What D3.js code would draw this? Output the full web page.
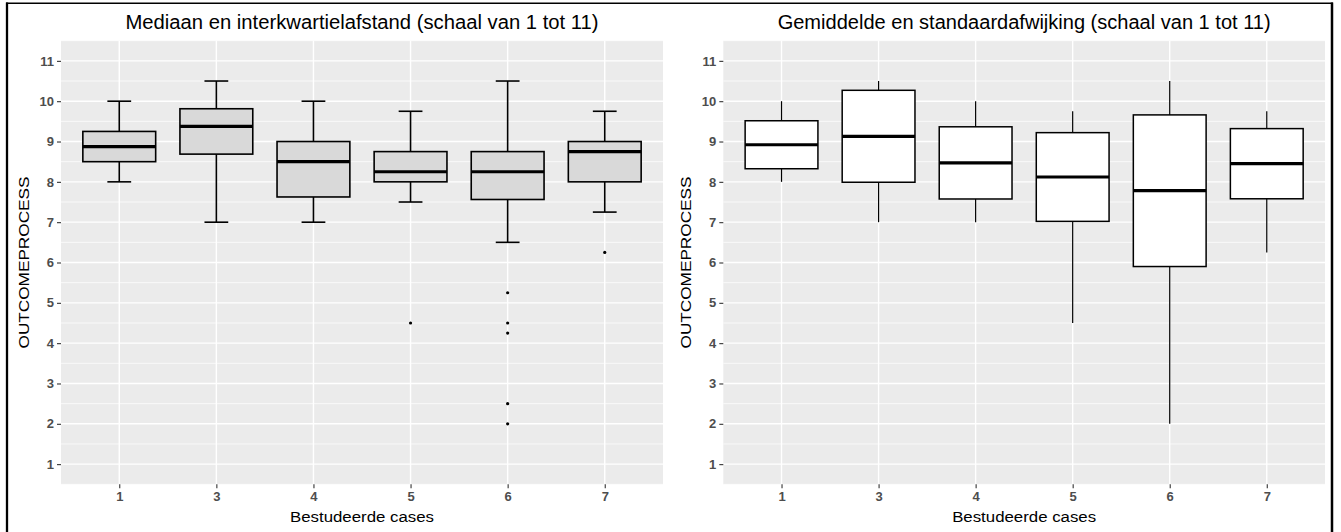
<!DOCTYPE html>
<html>
<head>
<meta charset="utf-8">
<script src="https://cdn.jsdelivr.net/npm/d3@7"></script>
<style>
  html, body { margin: 0; padding: 0; background: #fff; }
  svg { display: block; }
</style>
</head>
<body>
<svg id="chart" width="1341" height="532"></svg>
<script>
// ---------- data ----------
const categories = ["1", "3", "4", "5", "6", "7"];
const yTicks = [1, 2, 3, 4, 5, 6, 7, 8, 9, 10, 11];

// Left panel: median and interquartile range
const q1Vals      = [8.5, 8.6875, 7.625, 8.0, 7.5625, 8.0];
const medianVals  = [8.875, 9.375, 8.5, 8.25, 8.25, 8.75];
const q3Vals      = [9.25, 9.8125, 9.0, 8.75, 8.75, 9.0];
const whiskerLow  = [8.0, 7.0, 7.0, 7.5, 6.5, 7.25];
const whiskerHigh = [10.0, 10.5, 10.0, 9.75, 10.5, 9.75];
const outlierCats = ["5", "6", "6", "6", "6", "6", "7"];
const outlierVals = [4.5, 5.25, 4.5, 4.25, 2.5, 2.0, 6.25];

// Right panel: mean and standard deviation
const meanVals = [8.92, 9.13, 8.47, 8.12, 7.78, 8.45];
const sdVals   = [0.595, 1.14, 0.895, 1.10, 1.88, 0.87];
const minVals  = [8.0, 7.0, 7.0, 4.5, 2.0, 6.25];
const maxVals  = [10.0, 10.5, 10.0, 9.75, 10.5, 9.75];

const titleLeft  = "Mediaan en interkwartielafstand (schaal van 1 tot 11)";
const titleRight = "Gemiddelde en standaardafwijking (schaal van 1 tot 11)";
const xTitle = "Bestudeerde cases";
const yTitle = "OUTCOMEPROCESS";

// ---------- layout ----------
const svg = d3.select("#chart");
const FONT = "'Liberation Sans', Arial, Helvetica, sans-serif";
const plotTop = 40.7, plotBottom = 484.3;

const y = d3.scaleLinear().domain([0.5, 11.5]).range([plotBottom, plotTop]);

function panel(x0, x1, title, titleLen, drawFn) {
  const g = svg.append("g");
  // discrete axis with 0.6-unit expansion each side
  const x = d3.scalePoint().domain(categories).padding(0.6).range([x0, x1]);
  const unit = x.step();
  const cx = c => x(c);

  g.append("rect").attr("x", x0).attr("y", plotTop).attr("width", x1 - x0).attr("height", plotBottom - plotTop)
    .attr("fill", "#EBEBEB");
  const minor = d3.range(0.5, 11.6, 1);
  g.selectAll(".minor").data(minor).join("line")
    .attr("x1", x0).attr("x2", x1).attr("y1", d => y(d)).attr("y2", d => y(d))
    .attr("stroke", "#fff").attr("stroke-width", 0.7);
  g.selectAll(".majorY").data(yTicks).join("line")
    .attr("x1", x0).attr("x2", x1).attr("y1", d => y(d)).attr("y2", d => y(d))
    .attr("stroke", "#fff").attr("stroke-width", 1.4);
  g.selectAll(".majorX").data(categories).join("line")
    .attr("x1", d => cx(d)).attr("x2", d => cx(d)).attr("y1", plotTop).attr("y2", plotBottom)
    .attr("stroke", "#fff").attr("stroke-width", 1.4);

  const yAxis = d3.axisLeft(y).tickValues(yTicks).tickSize(4).tickPadding(3).tickFormat(d3.format("d"));
  const ya = g.append("g").attr("transform", `translate(${x0},0)`).call(yAxis);
  ya.select(".domain").remove();
  ya.selectAll(".tick line").attr("stroke", "#333").attr("stroke-width", 1.1);
  ya.selectAll(".tick text").attr("fill", "#4D4D4D").attr("font-family", FONT)
    .attr("font-size", 13).attr("font-weight", "bold");

  const xAxis = d3.axisBottom(x).tickSize(4).tickPadding(3);
  const xa = g.append("g").attr("transform", `translate(0,${plotBottom})`).call(xAxis);
  xa.select(".domain").remove();
  xa.selectAll(".tick line").attr("stroke", "#333").attr("stroke-width", 1.1);
  xa.selectAll(".tick text").attr("fill", "#4D4D4D").attr("font-family", FONT)
    .attr("font-size", 13).attr("font-weight", "bold");

  const mid = (x0 + x1) / 2;
  g.append("text").attr("x", mid).attr("y", 29.3).attr("text-anchor", "middle")
    .attr("font-family", FONT).attr("font-size", 20).attr("fill", "#000")
    .attr("textLength", titleLen).attr("lengthAdjust", "spacingAndGlyphs").text(title);
  g.append("text").attr("x", mid).attr("y", 522).attr("text-anchor", "middle")
    .attr("font-family", FONT).attr("font-size", 14).attr("fill", "#000")
    .attr("textLength", 144).attr("lengthAdjust", "spacingAndGlyphs").text(xTitle);
  g.append("text").attr("transform", `translate(${x0 - 32.5},${(plotTop + plotBottom) / 2}) rotate(-90)`)
    .attr("text-anchor", "middle")
    .attr("font-family", FONT).attr("font-size", 14).attr("fill", "#000")
    .attr("textLength", 172).attr("lengthAdjust", "spacingAndGlyphs").text(yTitle);

  drawFn(g, cx, unit);
}

// Left panel
panel(61, 663, titleLeft, 473, (g, cx, unit) => {
  const bw = 0.75 * unit, cw = 0.245 * unit;
  categories.forEach((c, i) => {
    const xc = cx(c);
    g.append("line").attr("x1", xc).attr("x2", xc).attr("y1", y(whiskerHigh[i])).attr("y2", y(q3Vals[i]))
      .attr("stroke", "#000").attr("stroke-width", 1.6);
    g.append("line").attr("x1", xc).attr("x2", xc).attr("y1", y(whiskerLow[i])).attr("y2", y(q1Vals[i]))
      .attr("stroke", "#000").attr("stroke-width", 1.6);
    [whiskerHigh[i], whiskerLow[i]].forEach(v => {
      g.append("line").attr("x1", xc - cw / 2).attr("x2", xc + cw / 2).attr("y1", y(v)).attr("y2", y(v))
        .attr("stroke", "#000").attr("stroke-width", 1.6);
    });
    g.append("rect").attr("x", xc - bw / 2).attr("width", bw)
      .attr("y", y(q3Vals[i])).attr("height", y(q1Vals[i]) - y(q3Vals[i]))
      .attr("fill", "#D9D9D9").attr("stroke", "#000").attr("stroke-width", 1.6);
    g.append("line").attr("x1", xc - bw / 2).attr("x2", xc + bw / 2)
      .attr("y1", y(medianVals[i])).attr("y2", y(medianVals[i]))
      .attr("stroke", "#000").attr("stroke-width", 3.2);
  });
  g.selectAll(".outlier").data(outlierVals).join("circle")
    .attr("cx", (d, i) => cx(outlierCats[i])).attr("cy", d => y(d)).attr("r", 1.6).attr("fill", "#000");
});

// Right panel
panel(723.3, 1325, titleRight, 493, (g, cx, unit) => {
  const bw = 0.75 * unit;
  categories.forEach((c, i) => {
    const xc = cx(c);
    const lo = meanVals[i] - sdVals[i], hi = meanVals[i] + sdVals[i];
    g.append("line").attr("x1", xc).attr("x2", xc).attr("y1", y(maxVals[i])).attr("y2", y(minVals[i]))
      .attr("stroke", "#000").attr("stroke-width", 1.2);
    g.append("rect").attr("x", xc - bw / 2).attr("width", bw)
      .attr("y", y(hi)).attr("height", y(lo) - y(hi))
      .attr("fill", "#fff").attr("stroke", "#000").attr("stroke-width", 1.5);
    g.append("line").attr("x1", xc - bw / 2).attr("x2", xc + bw / 2)
      .attr("y1", y(meanVals[i])).attr("y2", y(meanVals[i]))
      .attr("stroke", "#000").attr("stroke-width", 3.2);
  });
});

// outer frame
svg.append("line").attr("x1", 7).attr("x2", 7).attr("y1", 2.5).attr("y2", 532).attr("stroke", "#000").attr("stroke-width", 2.3);
svg.append("line").attr("x1", 1332).attr("x2", 1332).attr("y1", 2.5).attr("y2", 532).attr("stroke", "#000").attr("stroke-width", 2.5);
svg.append("line").attr("x1", 6).attr("x2", 1333).attr("y1", 3.3).attr("y2", 3.3).attr("stroke", "#000").attr("stroke-width", 1.6);
</script>
</body>
</html>
